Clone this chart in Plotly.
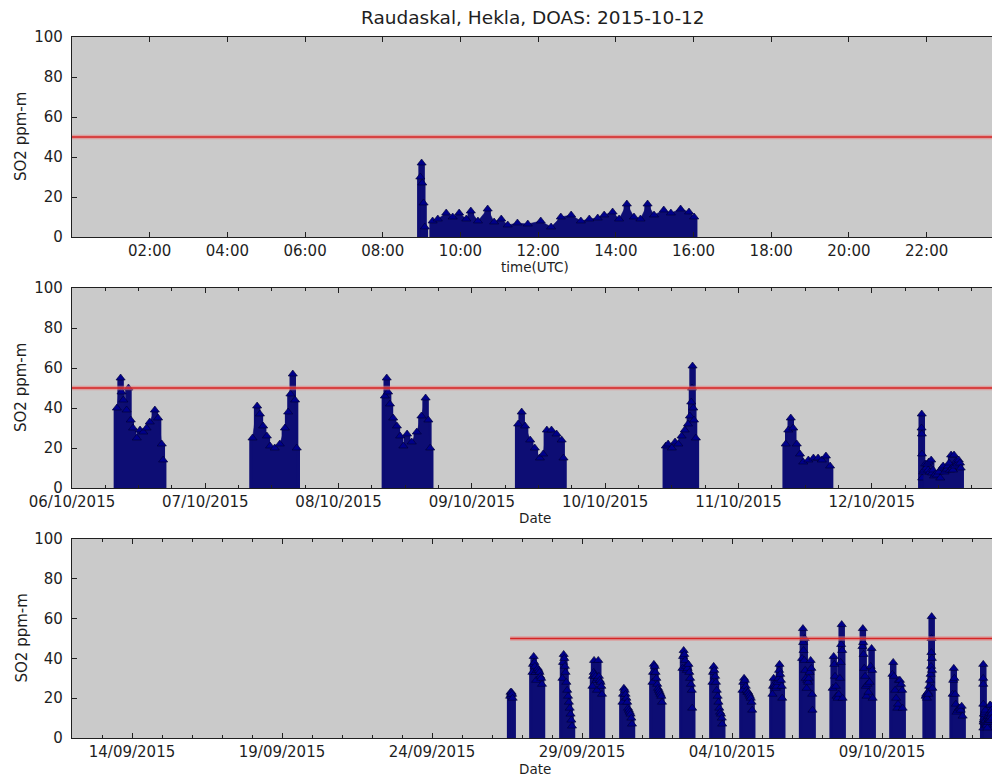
import pandas as pd
import plotly.graph_objects as go

title_text = "Raudaskal, Hekla, DOAS: 2015-10-12"
so2_limit = 50  # ppm-m reference level
so2_ticks = [0, 20, 40, 60, 80, 100]

# Daytime DOAS scans, 26 Sep - 5 Oct 2015 (upper SO2 column per scan, ppm-m)
late_sep_time = [
    "2015-09-26 14:30", "2015-09-26 14:50", "2015-09-26 15:15", "2015-09-26 15:40", "2015-09-26 16:05", "2015-09-26 16:30",
    "2015-09-27 08:20", "2015-09-27 08:50", "2015-09-27 09:20", "2015-09-27 09:50", "2015-09-27 10:20", "2015-09-27 10:50",
    "2015-09-27 11:20", "2015-09-27 12:00", "2015-09-27 12:40", "2015-09-27 13:20", "2015-09-27 14:00", "2015-09-27 14:40",
    "2015-09-27 15:20", "2015-09-27 16:00",
    "2015-09-28 08:20", "2015-09-28 08:50", "2015-09-28 09:20", "2015-09-28 09:50", "2015-09-28 10:20", "2015-09-28 10:50",
    "2015-09-28 11:30", "2015-09-28 12:10", "2015-09-28 12:50", "2015-09-28 13:30", "2015-09-28 14:10", "2015-09-28 14:50",
    "2015-09-28 15:30", "2015-09-28 16:00",
    "2015-09-29 08:20", "2015-09-29 08:50", "2015-09-29 09:20", "2015-09-29 09:40", "2015-09-29 10:10", "2015-09-29 10:50",
    "2015-09-29 11:30", "2015-09-29 12:00", "2015-09-29 12:30", "2015-09-29 13:00", "2015-09-29 13:30", "2015-09-29 14:10",
    "2015-09-29 14:50", "2015-09-29 15:30", "2015-09-29 16:00",
    "2015-09-30 08:20", "2015-09-30 08:50", "2015-09-30 09:30", "2015-09-30 10:10", "2015-09-30 10:50", "2015-09-30 11:30",
    "2015-09-30 12:10", "2015-09-30 12:50", "2015-09-30 13:30", "2015-09-30 14:10", "2015-09-30 14:50", "2015-09-30 15:30",
    "2015-09-30 16:00",
    "2015-10-01 08:20", "2015-10-01 08:50", "2015-10-01 09:30", "2015-10-01 10:10", "2015-10-01 10:50", "2015-10-01 11:30",
    "2015-10-01 12:10", "2015-10-01 12:50", "2015-10-01 13:30", "2015-10-01 14:10", "2015-10-01 14:50", "2015-10-01 15:30",
    "2015-10-01 16:00",
    "2015-10-02 08:20", "2015-10-02 08:50", "2015-10-02 09:20", "2015-10-02 09:50", "2015-10-02 10:30", "2015-10-02 11:10",
    "2015-10-02 11:50", "2015-10-02 12:30", "2015-10-02 13:10", "2015-10-02 13:50", "2015-10-02 14:30", "2015-10-02 15:10",
    "2015-10-02 15:50", "2015-10-02 16:10",
    "2015-10-03 08:20", "2015-10-03 08:50", "2015-10-03 09:20", "2015-10-03 09:50", "2015-10-03 10:30", "2015-10-03 11:10",
    "2015-10-03 11:50", "2015-10-03 12:30", "2015-10-03 13:10", "2015-10-03 13:50", "2015-10-03 14:30", "2015-10-03 15:10",
    "2015-10-03 15:50", "2015-10-03 16:10",
    "2015-10-04 08:20", "2015-10-04 09:00", "2015-10-04 09:40", "2015-10-04 10:20", "2015-10-04 11:00", "2015-10-04 11:40",
    "2015-10-04 12:20", "2015-10-04 13:00", "2015-10-04 13:40", "2015-10-04 14:20", "2015-10-04 15:00", "2015-10-04 15:40",
    "2015-10-04 16:10",
    "2015-10-05 08:20", "2015-10-05 08:50", "2015-10-05 09:20", "2015-10-05 09:50", "2015-10-05 10:30", "2015-10-05 11:10",
    "2015-10-05 11:50", "2015-10-05 12:30", "2015-10-05 13:10", "2015-10-05 13:40", "2015-10-05 14:00", "2015-10-05 14:30",
    "2015-10-05 15:10", "2015-10-05 15:50", "2015-10-05 16:10",
]
late_sep_so2 = [
    21, 23, 22, 23, 22, 20,
    33, 37, 41, 38, 36, 33, 29, 34, 35, 34, 33, 31, 30, 27,
    30, 38, 42, 40, 36, 33, 28, 24, 21, 18, 15, 12, 9, 6,
    26, 31, 33, 39, 32, 31, 29, 24, 30, 39, 31, 29, 28, 26, 22,
    18, 22, 25, 24, 22, 20, 18, 15, 14, 13, 12, 10, 7,
    28, 33, 37, 36, 33, 30, 27, 25, 24, 23, 22, 21, 18,
    35, 41, 44, 42, 39, 36, 34, 35, 37, 33, 30, 27, 24, 15,
    28, 33, 36, 34, 31, 28, 24, 21, 18, 15, 13, 12, 10, 7,
    24, 28, 30, 29, 26, 24, 23, 23, 22, 21, 20, 18, 14,
    22, 26, 30, 27, 26, 25, 26, 28, 30, 34, 37, 32, 29, 26, 20,
]

# Daytime DOAS scans, 6 - 11 Oct 2015
early_oct_time = [
    "2015-10-06 08:05", "2015-10-06 08:45", "2015-10-06 08:55", "2015-10-06 09:15", "2015-10-06 09:50", "2015-10-06 10:10",
    "2015-10-06 10:35", "2015-10-06 11:00", "2015-10-06 11:40", "2015-10-06 12:15", "2015-10-06 12:50", "2015-10-06 13:25",
    "2015-10-06 14:00", "2015-10-06 14:55", "2015-10-06 15:30", "2015-10-06 16:10", "2015-10-06 16:25",
    "2015-10-07 08:30", "2015-10-07 09:20", "2015-10-07 09:50", "2015-10-07 10:25", "2015-10-07 11:05", "2015-10-07 11:40",
    "2015-10-07 12:30", "2015-10-07 13:25", "2015-10-07 14:20", "2015-10-07 14:55", "2015-10-07 15:20", "2015-10-07 15:45",
    "2015-10-07 16:10", "2015-10-07 16:28",
    "2015-10-08 08:20", "2015-10-08 08:40", "2015-10-08 08:55", "2015-10-08 09:15", "2015-10-08 09:50", "2015-10-08 10:30",
    "2015-10-08 11:05", "2015-10-08 11:40", "2015-10-08 12:20", "2015-10-08 13:10", "2015-10-08 14:05", "2015-10-08 14:55",
    "2015-10-08 15:40", "2015-10-08 16:10", "2015-10-08 16:30",
    "2015-10-09 08:20", "2015-10-09 08:58", "2015-10-09 09:35", "2015-10-09 10:30", "2015-10-09 11:20", "2015-10-09 12:15",
    "2015-10-09 12:50", "2015-10-09 13:30", "2015-10-09 14:20", "2015-10-09 15:15", "2015-10-09 16:10", "2015-10-09 16:30",
    "2015-10-10 10:55", "2015-10-10 11:20", "2015-10-10 12:00", "2015-10-10 12:35", "2015-10-10 13:10", "2015-10-10 13:45",
    "2015-10-10 14:20", "2015-10-10 14:55", "2015-10-10 15:15", "2015-10-10 15:30", "2015-10-10 15:38", "2015-10-10 15:44",
    "2015-10-10 15:52", "2015-10-10 16:00", "2015-10-10 16:20",
    "2015-10-11 08:30", "2015-10-11 08:58", "2015-10-11 09:25", "2015-10-11 09:52", "2015-10-11 10:30", "2015-10-11 11:05",
    "2015-10-11 11:40", "2015-10-11 12:35", "2015-10-11 13:30", "2015-10-11 14:20", "2015-10-11 15:00", "2015-10-11 15:45",
    "2015-10-11 16:30",
]
early_oct_so2 = [
    40, 55, 48, 44, 39, 50, 34, 30, 25, 29, 28, 30, 33, 39, 35, 22, 14,
    25, 41, 37, 31, 26, 21, 20, 22, 30, 38, 47, 57, 44, 20,
    46, 55, 48, 42, 35, 31, 26, 21, 27, 23, 28, 36, 45, 34, 20,
    32, 38, 31, 24, 20, 15, 17, 29, 29, 27, 24, 15,
    21, 22, 20, 23, 22, 26, 29, 32, 36, 43, 50, 61, 40, 34, 25,
    22, 29, 35, 30, 22, 17, 13, 14, 15, 15, 14, 16, 11,
]

# 12 Oct 2015 at full resolution (None marks a pause between scan series)
oct12_time = [
    "2015-10-12 08:58", "2015-10-12 09:00", "2015-10-12 09:01", "2015-10-12 09:03", "2015-10-12 09:05", None,
    "2015-10-12 09:17", "2015-10-12 09:25", "2015-10-12 09:38", "2015-10-12 09:48", "2015-10-12 09:58", "2015-10-12 10:09",
    "2015-10-12 10:16", "2015-10-12 10:27", "2015-10-12 10:42", "2015-10-12 10:52", "2015-10-12 11:03", "2015-10-12 11:13",
    "2015-10-12 11:28", "2015-10-12 11:44", "2015-10-12 12:04", "2015-10-12 12:20", "2015-10-12 12:35", "2015-10-12 12:51",
    "2015-10-12 13:06", "2015-10-12 13:19", "2015-10-12 13:32", "2015-10-12 13:42", "2015-10-12 13:55", "2015-10-12 14:05",
    "2015-10-12 14:17", "2015-10-12 14:28", "2015-10-12 14:38", "2015-10-12 14:49", "2015-10-12 14:59", "2015-10-12 15:14",
    "2015-10-12 15:25", "2015-10-12 15:40", "2015-10-12 15:53", "2015-10-12 16:01",
]
oct12_so2 = [
    30, 37, 27, 17, 5, None,
    8, 9, 12, 10, 12, 9, 13, 8, 14, 7.5, 9, 6, 7, 6.5, 8, 5, 10, 11,
    8, 9, 9.5, 11, 12.5, 9, 16.5, 10, 9, 16.5, 11, 13.5, 12, 14, 12.5, 10,
]

# Time windows shown in the three panels
day_window = ("2015-10-12 00:00", "2015-10-12 23:41")
week_window = ("2015-10-06 00:00", "2015-10-12 21:39")
month_window = ("2015-09-12 00:00", "2015-10-12 16:00")

FONT = "DejaVu Sans"
TXT = "#1e1e1e"
BG = "#cacaca"
MARK = "#00008b"
FILL = "#0d0d74"

obs = pd.DataFrame({
    "time": pd.to_datetime(pd.Series(late_sep_time + early_oct_time + oct12_time)),
    "so2": pd.Series(late_sep_so2 + early_oct_so2 + oct12_so2, dtype="float"),
})
pause = obs["so2"].isna()
new_day = obs["time"].dt.date != obs["time"].shift().dt.date
obs["session"] = (pause | new_day).cumsum()
obs = obs[~pause]
first_scan = obs["time"].min()

W, H = 992, 777
L, R, T, B = 72, 0, 37, 39
plot_w = W - L - R
plot_h = H - T - B

fig = go.Figure()

panels = [
    ("x", "y", day_window, pd.Timestamp(day_window[0])),
    ("x2", "y2", week_window, pd.Timestamp(week_window[0])),
    ("x3", "y3", month_window, first_scan),
]

for xa, ya, win, limit_from in panels:
    lo, hi = pd.Timestamp(win[0]), pd.Timestamp(win[1])
    # width of one scan column on screen (about one marker wide), in ms
    col_ms = 6.5 * (hi - lo).total_seconds() * 1000 / plot_w
    shown = obs[(obs["time"] >= lo - pd.Timedelta(hours=12)) & (obs["time"] <= hi + pd.Timedelta(hours=12))]
    for _, s in shown.groupby("session"):
        fig.add_trace(go.Bar(
            x=s["time"], y=s["so2"], width=[col_ms] * len(s), xaxis=xa, yaxis=ya,
            marker=dict(color=FILL, line=dict(width=0)),
            showlegend=False, hoverinfo="skip",
        ))
        fig.add_trace(go.Scatter(
            x=s["time"], y=s["so2"], xaxis=xa, yaxis=ya,
            mode="lines+markers", fill="tozeroy", fillcolor=FILL,
            line=dict(color=FILL, width=0.5),
            marker=dict(symbol="triangle-up", size=8, color=MARK,
                        line=dict(color="#000030", width=0.6)),
            showlegend=False, hoverinfo="skip",
        ))
    # SO2 reference level
    fig.add_trace(go.Scatter(
        x=[max(limit_from, lo), hi], y=[so2_limit, so2_limit], xaxis=xa, yaxis=ya,
        mode="lines", line=dict(color="rgba(235,120,120,0.55)", width=4.5),
        showlegend=False, hoverinfo="skip"))
    fig.add_trace(go.Scatter(
        x=[max(limit_from, lo), hi], y=[so2_limit, so2_limit], xaxis=xa, yaxis=ya,
        mode="lines", line=dict(color="#d42424", width=1.6),
        showlegend=False, hoverinfo="skip"))


def ydom(top_px, bottom_px):
    return [(H - B - bottom_px) / plot_h, (H - B - top_px) / plot_h]


def px_y(py):
    return (H - B - py) / plot_h


def px_x(px):
    return (px - L) / plot_w


axis_common = dict(
    showline=True, linecolor="#202020", linewidth=1.3, mirror="ticks",
    ticks="inside", ticklen=5, tickwidth=1, tickcolor="#202020",
    showgrid=False, zeroline=False,
    tickfont=dict(family=FONT, size=15, color=TXT),
)

x1_ticks = pd.date_range("2015-10-12 02:00", "2015-10-12 22:00", freq="2h")
x2_ticks = pd.date_range("2015-10-06", "2015-10-12", freq="D")
x3_ticks = pd.date_range("2015-09-14", "2015-10-12", freq="5D")

fig.update_layout(
    width=W, height=H,
    margin=dict(l=L, r=R, t=T, b=B, pad=0),
    paper_bgcolor="white", plot_bgcolor=BG,
    font=dict(family=FONT, color=TXT),
    barmode="overlay",
    xaxis=dict(axis_common, domain=[0, 1], anchor="y", type="date",
               range=list(day_window), tickvals=x1_ticks, tickformat="%H:%M",
               ticklabelstandoff=0),
    xaxis2=dict(axis_common, domain=[0, 1], anchor="y2", type="date",
                range=list(week_window), tickvals=x2_ticks, tickformat="%d/%m/%Y",
                ticklabelstandoff=0,
                minor=dict(ticks="inside", ticklen=2.5, dtick=6 * 3600 * 1000,
                           tick0="2015-10-06", tickcolor="#202020")),
    xaxis3=dict(axis_common, domain=[0, 1], anchor="y3", type="date",
                range=list(month_window), tickvals=x3_ticks, tickformat="%d/%m/%Y",
                ticklabelstandoff=0,
                minor=dict(ticks="inside", ticklen=2.5, dtick=24 * 3600 * 1000,
                           tick0="2015-09-12", tickcolor="#202020")),
)

for name, dom in (("yaxis", ydom(37, 237)), ("yaxis2", ydom(288, 488)), ("yaxis3", ydom(539, 738))):
    anchor = {"yaxis": "x", "yaxis2": "x2", "yaxis3": "x3"}[name]
    ax = dict(axis_common, domain=dom, anchor=anchor, range=[0, 100],
              tickvals=so2_ticks, ticklabelstandoff=5)
    ax["mirror"] = False
    fig.layout[name] = ax

annotations = [
    dict(text=title_text, x=px_x(533), y=px_y(17), font=dict(size=18.5)),
    dict(text="time(UTC)", x=px_x(535), y=px_y(267), font=dict(size=13.5)),
    dict(text="Date", x=px_x(535), y=px_y(518), font=dict(size=13.5)),
    dict(text="Date", x=px_x(535), y=px_y(769), font=dict(size=13.5)),
]
for top, bottom in ((37, 237), (288, 488), (539, 738)):
    annotations.append(dict(text="SO2 ppm-m", x=px_x(21), y=px_y((top + bottom) / 2),
                            textangle=-90, font=dict(size=15)))

fig.update_layout(annotations=[
    dict(a, xref="paper", yref="paper", showarrow=False, xanchor="center", yanchor="middle",
         font=dict(family=FONT, color=TXT, size=a["font"]["size"]))
    for a in annotations
])

fig.write_html("out.html")
